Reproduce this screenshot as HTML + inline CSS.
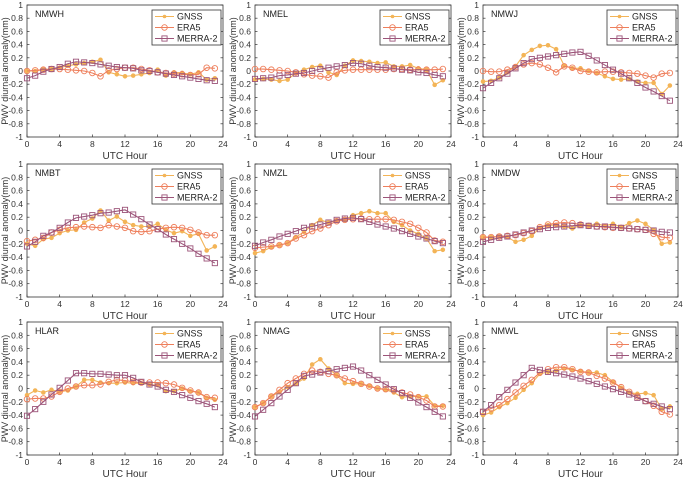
<!DOCTYPE html>
<html><head><meta charset="utf-8"><style>
html,body{margin:0;padding:0;background:#fff;}
svg{display:block;font-family:"Liberation Sans",Arial,sans-serif;}
</style></head><body>
<svg id="fig" width="685" height="478" viewBox="0 0 685 478" xmlns="http://www.w3.org/2000/svg"></svg>
<script>
const hours = [0,1,2,3,4,5,6,7,8,9,10,11,12,13,14,15,16,17,18,19,20,21,22,23];
const stations = ["NMWH","NMEL","NMWJ","NMBT","NMZL","NMDW","HLAR","NMAG","NMWL"];
const seriesNames = ["GNSS","ERA5","MERRA-2"];
const xTicks = [0,4,8,12,16,20,24];
const yTicks = [-1,-0.8,-0.6,-0.4,-0.2,0,0.2,0.4,0.6,0.8,1];
const yTickLabels = ["-1","-0.8","-0.6","-0.4","-0.2","0","0.2","0.4","0.6","0.8","1"];

const gnssNMWH = [0,0,0.02,0.03,0.05,0.08,0.1,0.12,0.14,0.17,-0.02,-0.05,-0.08,-0.07,-0.05,-0.03,0.02,-0.07,-0.02,-0.03,-0.05,-0.02,-0.13,-0.11];
const era5NMWH = [0,0.01,0.02,0.03,0.03,0.02,0.01,0,-0.03,-0.08,0.01,0.03,0.05,0.05,0.03,0.01,-0.02,-0.03,-0.04,-0.05,-0.06,-0.05,0.05,0.04];
const merraNMWH = [-0.11,-0.07,-0.01,0.03,0.06,0.11,0.14,0.13,0.12,0.1,0.08,0.06,0.05,0.04,0.01,0,-0.02,-0.04,-0.06,-0.08,-0.1,-0.12,-0.14,-0.15];

const gnssNMEL = [-0.13,-0.12,-0.13,-0.15,-0.13,-0.03,0.02,0.06,0.08,-0.02,-0.06,0.08,0.16,0.15,0.14,0.12,0.13,0.07,0.07,0.09,0.04,0.02,-0.21,-0.14];
const era5NMEL = [0.03,0.03,0.02,0.01,0,-0.02,-0.05,-0.07,-0.08,-0.1,-0.02,0.01,0.02,0.02,0.02,0.02,0.02,0.03,0.03,0.02,0.02,0.02,0.02,0.03];
const merraNMEL = [-0.12,-0.11,-0.1,-0.07,-0.06,-0.04,-0.03,0,0.03,0.05,0.07,0.09,0.12,0.11,0.08,0.06,0.05,0.04,0.02,0.01,-0.02,-0.03,-0.06,-0.08];

const gnssNMWJ = [-0.16,-0.15,-0.1,-0.02,0.07,0.24,0.32,0.38,0.39,0.33,0.08,0.04,0.04,0,-0.03,-0.08,-0.12,-0.13,-0.12,-0.16,-0.18,-0.18,-0.35,-0.22];
const era5NMWJ = [0,-0.01,-0.01,0.02,0.06,0.1,0.12,0.1,0.05,-0.02,0.07,0.05,0,-0.01,-0.02,-0.01,-0.01,-0.02,-0.03,-0.04,-0.07,-0.1,-0.04,-0.03];
const merraNMWJ = [-0.26,-0.18,-0.11,-0.04,0.04,0.12,0.18,0.2,0.22,0.24,0.26,0.28,0.29,0.23,0.16,0.09,0.02,-0.04,-0.11,-0.18,-0.25,-0.31,-0.38,-0.45];

const gnssNMBT = [-0.2,-0.23,-0.13,-0.11,-0.04,0,0.01,0.12,0.18,0.3,0.15,0.21,0.13,0.08,0.06,0.06,0.1,0.01,-0.04,-0.01,-0.08,-0.05,-0.3,-0.24];
const era5NMBT = [-0.16,-0.14,-0.11,-0.03,0.01,0.04,0.05,0.06,0.05,0.04,0.08,0.06,0.04,-0.01,-0.02,-0.01,0.02,0.04,0.05,0.04,0.01,-0.03,-0.07,-0.07];
const merraNMBT = [-0.24,-0.17,-0.08,-0.03,0.04,0.12,0.19,0.21,0.23,0.26,0.27,0.29,0.31,0.24,0.17,0.09,0.02,-0.06,-0.13,-0.2,-0.27,-0.35,-0.42,-0.49];

const gnssNMZL = [-0.34,-0.31,-0.25,-0.22,-0.19,-0.1,-0.02,0.08,0.16,0.12,0.15,0.16,0.23,0.26,0.29,0.26,0.26,0.13,0.08,0,-0.05,-0.12,-0.31,-0.29];
const era5NMZL = [-0.26,-0.25,-0.24,-0.22,-0.19,-0.12,-0.07,-0.01,0.03,0.08,0.14,0.16,0.17,0.18,0.17,0.17,0.17,0.16,0.13,0.1,0.04,-0.03,-0.15,-0.17];
const merraNMZL = [-0.23,-0.18,-0.14,-0.09,-0.05,-0.01,0.04,0.06,0.09,0.12,0.16,0.18,0.19,0.17,0.13,0.09,0.06,0.03,-0.01,-0.05,-0.09,-0.12,-0.16,-0.19];

const gnssNMDW = [-0.1,-0.1,-0.09,-0.1,-0.17,-0.14,-0.08,0.04,0.08,0.08,0.06,0.03,0.08,0.07,0.1,0.07,0.1,0.05,0.11,0.15,0.1,0.01,-0.2,-0.18];
const era5NMDW = [-0.1,-0.1,-0.09,-0.08,-0.07,-0.04,-0.01,0.05,0.09,0.11,0.12,0.11,0.09,0.07,0.06,0.05,0.04,0.04,0.03,0.02,0.01,-0.05,-0.1,-0.11];
const merraNMDW = [-0.17,-0.14,-0.11,-0.09,-0.06,-0.03,0,0.02,0.04,0.05,0.06,0.07,0.08,0.07,0.06,0.06,0.05,0.04,0.03,0.02,0.01,0,-0.02,-0.03];

const gnssHLAR = [-0.1,-0.03,-0.06,-0.02,-0.05,-0.03,0.03,0.13,0.13,0.09,0.08,0.08,0.09,0.08,0.08,0.06,0.05,-0.04,-0.04,0,-0.04,-0.06,-0.14,-0.17];
const era5HLAR = [-0.16,-0.15,-0.15,-0.12,-0.05,0,0.03,0.05,0.05,0.06,0.1,0.13,0.12,0.1,0.09,0.09,0.09,0.08,0.06,0.01,-0.03,-0.06,-0.13,-0.14];
const merraHLAR = [-0.41,-0.31,-0.2,-0.09,0.01,0.12,0.23,0.23,0.22,0.22,0.21,0.2,0.2,0.16,0.1,0.06,0.03,-0.02,-0.05,-0.1,-0.14,-0.19,-0.23,-0.28];

const gnssNMAG = [-0.28,-0.22,-0.12,-0.05,0.02,0.07,0.15,0.36,0.44,0.3,0.2,0.08,0.07,0.07,0.04,0,-0.02,-0.06,-0.13,-0.12,-0.12,-0.12,-0.26,-0.26];
const era5NMAG = [-0.28,-0.22,-0.12,-0.02,0.08,0.15,0.22,0.27,0.25,0.22,0.2,0.15,0.11,0.07,0.03,0,-0.01,-0.03,-0.06,-0.09,-0.13,-0.18,-0.27,-0.27];
const merraNMAG = [-0.42,-0.32,-0.22,-0.12,-0.02,0.08,0.19,0.21,0.24,0.26,0.29,0.31,0.33,0.27,0.2,0.13,0.06,-0.01,-0.07,-0.14,-0.21,-0.28,-0.35,-0.42];

const gnssNMWL = [-0.4,-0.36,-0.28,-0.22,-0.14,-0.02,0.08,0.22,0.25,0.27,0.3,0.28,0.26,0.24,0.24,0.2,0.1,0.01,-0.06,-0.08,-0.07,-0.1,-0.31,-0.27];
const era5NMWL = [-0.35,-0.3,-0.25,-0.16,-0.06,0.04,0.13,0.24,0.29,0.32,0.32,0.29,0.25,0.24,0.19,0.15,0.09,0.02,-0.05,-0.12,-0.19,-0.26,-0.35,-0.39];
const merraNMWL = [-0.35,-0.25,-0.13,-0.02,0.09,0.2,0.31,0.28,0.25,0.23,0.21,0.18,0.15,0.11,0.07,0.03,-0.01,-0.05,-0.09,-0.14,-0.19,-0.23,-0.27,-0.31];

const panelData = [
  [gnssNMWH,era5NMWH,merraNMWH],[gnssNMEL,era5NMEL,merraNMEL],[gnssNMWJ,era5NMWJ,merraNMWJ],
  [gnssNMBT,era5NMBT,merraNMBT],[gnssNMZL,era5NMZL,merraNMZL],[gnssNMDW,era5NMDW,merraNMDW],
  [gnssHLAR,era5HLAR,merraHLAR],[gnssNMAG,era5NMAG,merraNMAG],[gnssNMWL,era5NMWL,merraNMWL]
];

const NS = "http://www.w3.org/2000/svg";
const svg = document.getElementById("fig");
const colX = [[27,223],[255,451],[483,678]];
const rowY = [[5,137],[164,297],[322,455]];
const colors = ["#F3B457","#EE7F5C","#9C5479"];

function mk(tag, attrs, parent){
  const e = document.createElementNS(NS, tag);
  for (const k in attrs) e.setAttribute(k, attrs[k]);
  parent.appendChild(e);
  return e;
}

stations.forEach((st, i) => {
  const [x0, x1] = colX[i % 3];
  const [y0, y1] = rowY[Math.floor(i / 3)];
  const xs = v => x0 + (v / 24) * (x1 - x0);
  const ys = v => y1 - ((v + 1) / 2) * (y1 - y0);
  const g = mk("g", {}, svg);
  
  

  const frame = mk("rect", {x:x0, y:y0, width:x1-x0, height:y1-y0, fill:"#fff", stroke:"#333", "stroke-width":0.8}, g);
  
  

  yTicks.forEach((t, k) => {
    const y = ys(t);
    mk("line", {x1:x0, x2:x0+2.5, y1:y, y2:y, stroke:"#333", "stroke-width":0.7}, g);
    mk("line", {x1:x1, x2:x1-2.5, y1:y, y2:y, stroke:"#333", "stroke-width":0.7}, g);
    const tx = mk("text", {x:x0-4, y:y+3, "font-size":8.5, "text-anchor":"end", fill:"#333"}, g);
    tx.textContent = yTickLabels[k];
    
    
  });
  xTicks.forEach(t => {
    const x = xs(t);
    mk("line", {x1:x, x2:x, y1:y1, y2:y1-2.5, stroke:"#333", "stroke-width":0.7}, g);
    const tx = mk("text", {x:x, y:y1+10, "font-size":8.5, "text-anchor":"middle", fill:"#333"}, g);
    tx.textContent = t;
    
    
  });

  const xl = mk("text", {x:(x0+x1)/2, y:y1+22, "font-size":10, "text-anchor":"middle", fill:"#333"}, g);
  xl.textContent = "UTC Hour";
  
  

  const ymid = (y0+y1)/2, ylx = x0 - 19;
  const yl = mk("text", {x:ylx, y:ymid, "font-size":9, "text-anchor":"middle", fill:"#333", transform:`rotate(-90 ${ylx} ${ymid})`}, g);
  yl.textContent = "PWV diurnal anomaly(mm)";
  
  

  const stl = mk("text", {x:x0+8, y:y0+12, "font-size":9, fill:"#222"}, g);
  stl.textContent = st;
  
  

  panelData[i].forEach((vals, s) => {
    const pts = hours.map((h, k) => xs(h).toFixed(2) + "," + ys(vals[k]).toFixed(2)).join(" ");
    const pl = mk("polyline", {points:pts, fill:"none", stroke:colors[s], "stroke-width":1.1}, g);
    
    
    hours.forEach((h, k) => {
      const cx = xs(h), cy = ys(vals[k]);
      let m;
      if (s === 0) m = mk("circle", {cx:cx, cy:cy, r:1.8, fill:colors[0], stroke:colors[0]}, g);
      else if (s === 1) m = mk("circle", {cx:cx, cy:cy, r:2.8, fill:"none", stroke:colors[1], "stroke-width":0.9}, g);
      else m = mk("rect", {x:cx-2.6, y:cy-2.6, width:5.2, height:5.2, fill:"none", stroke:colors[2], "stroke-width":0.9}, g);
      
      
    });
  });

  const lx = x1 - 71, ly = y0 + 5;
  const lg = mk("g", {}, g);
  
  
  mk("rect", {x:lx, y:ly, width:69, height:35, fill:"#fff", stroke:"#333", "stroke-width":0.8}, lg);
  seriesNames.forEach((nm, s) => {
    const yy = ly + 6.5 + s * 11;
    const le = mk("g", {}, lg);
    
    
    mk("line", {x1:lx+3, x2:lx+22, y1:yy, y2:yy, stroke:colors[s], "stroke-width":1.1}, le);
    if (s === 0) mk("circle", {cx:lx+12.5, cy:yy, r:1.8, fill:colors[0]}, le);
    else if (s === 1) mk("circle", {cx:lx+12.5, cy:yy, r:2.8, fill:"none", stroke:colors[1], "stroke-width":0.9}, le);
    else mk("rect", {x:lx+9.9, y:yy-2.6, width:5.2, height:5.2, fill:"none", stroke:colors[2], "stroke-width":0.9}, le);
    const t = mk("text", {x:lx+25, y:yy+3, "font-size":9, fill:"#222"}, le);
    t.textContent = nm;
  });
});
</script>
</body></html>
